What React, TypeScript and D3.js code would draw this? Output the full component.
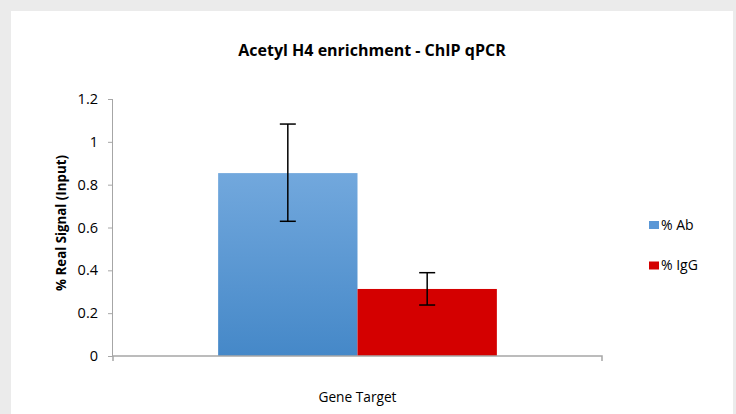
import React, { useEffect, useRef } from "react";
import * as d3 from "d3";

const categories = ["Gene Target"];
const seriesNames = ["% Ab", "% IgG"];
const seriesValues = [0.854, 0.313];
const errLow = [0.629, 0.238];
const errHigh = [1.083, 0.389];
const yTicks = [0, 0.2, 0.4, 0.6, 0.8, 1, 1.2];
const colors = ["url(#blueGrad)", "#d40000"];
const legendColors = ["#5a97d6", "#d40000"];

export default function App() {
  const svgRef = useRef<SVGSVGElement>(null);

  useEffect(() => {
    const width = 736;
    const height = 414;
    const svg = d3.select(svgRef.current).attr("width", width).attr("height", height);
    svg.selectAll("*").remove();

    const font = "'Open Sans', sans-serif";

    // --- background / panel ---
    svg.append("rect").attr("width", width).attr("height", height).attr("fill", "#ebebeb");
    svg.append("rect").attr("x", 11).attr("y", 11).attr("width", 722).attr("height", height - 11).attr("fill", "#fff");

    const defs = svg.append("defs");
    const grad = defs.append("linearGradient").attr("id", "blueGrad")
      .attr("x1", 0).attr("y1", 0).attr("x2", 0).attr("y2", 1);
    grad.append("stop").attr("offset", "0%").attr("stop-color", "#72a8dd");
    grad.append("stop").attr("offset", "100%").attr("stop-color", "#4588c8");

    // --- scales ---
    const x0 = d3.scaleBand().domain(categories).range([113, 602]).paddingInner(0).paddingOuter(0);
    const y = d3.scaleLinear().domain([0, 1.2]).range([356, 99]);
    const band = x0.bandwidth();
    const gap = 0.215 * band;
    const x1 = d3.scaleBand().domain(seriesNames).range([gap, band - gap]).padding(0);

    // --- title ---
    svg.append("text").attr("x", 372).attr("y", 56).attr("text-anchor", "middle")
      .attr("font-family", font).attr("font-weight", "bold").attr("font-size", 16)
      .attr("fill", "#000").text("Acetyl H4 enrichment - ChIP qPCR");

    // --- bars ---
    const g = svg.append("g");
    categories.forEach((c) => {
      seriesNames.forEach((s, i) => {
        const bx = (x0(c) as number) + (x1(s) as number);
        g.append("rect")
          .attr("x", bx).attr("y", y(seriesValues[i]))
          .attr("width", x1.bandwidth()).attr("height", y(0) - y(seriesValues[i]))
          .attr("fill", colors[i]);
        const cx = bx + x1.bandwidth() / 2;
        const eg = g.append("g").attr("stroke", "#000").attr("stroke-width", 1.5);
        eg.append("line").attr("x1", cx).attr("x2", cx).attr("y1", y(errHigh[i])).attr("y2", y(errLow[i]));
        eg.append("line").attr("x1", cx - 8).attr("x2", cx + 8).attr("y1", y(errHigh[i])).attr("y2", y(errHigh[i]));
        eg.append("line").attr("x1", cx - 8).attr("x2", cx + 8).attr("y1", y(errLow[i])).attr("y2", y(errLow[i]));
      });
    });

    // --- axes ---
    const axisColor = "#a6a6a6";
    const yAxis = svg.append("g").attr("transform", "translate(113,0)")
      .call(d3.axisLeft(y).tickValues(yTicks).tickSize(5).tickPadding(10).tickFormat((d) => d3.format("")(+d)));
    yAxis.select(".domain").attr("stroke", axisColor).attr("d", `M-0.5,${y(1.2)}V${y(0)}`);
    yAxis.selectAll(".tick line").attr("stroke", axisColor);
    yAxis.selectAll(".tick text").attr("font-family", font).attr("font-size", 14.5).attr("fill", "#000");

    const xAxis = svg.append("g").attr("transform", "translate(0,356)")
      .call(d3.axisBottom(x0).tickSize(0).tickFormat(() => ""));
    xAxis.select(".domain").attr("stroke", axisColor).attr("stroke-width", 1.5)
      .attr("d", "M113,0V5M113,0H602V5");

    svg.append("text").attr("x", (x0(categories[0]) as number) + band / 2).attr("y", 402)
      .attr("text-anchor", "middle").attr("font-family", font).attr("font-size", 13.7)
      .attr("fill", "#000").text(categories[0]);

    svg.append("text").attr("transform", "translate(66,223) rotate(-90)")
      .attr("text-anchor", "middle").attr("font-family", font).attr("font-weight", "bold")
      .attr("font-size", 13.3).attr("fill", "#000").text("% Real Signal (Input)");

    // --- legend ---
    const leg = svg.append("g").attr("transform", "translate(649,221)");
    seriesNames.forEach((s, i) => {
      const row = leg.append("g").attr("transform", `translate(0,${i * 40})`);
      row.append("rect").attr("width", 10).attr("height", 8).attr("y", i === 0 ? 0 : 0.5).attr("fill", legendColors[i]);
      row.append("text").attr("x", 12).attr("y", 9).attr("font-family", font).attr("font-size", 14)
        .attr("fill", "#000").text(s);
    });
  }, []);

  return <svg ref={svgRef} style={{ position: "absolute", left: 0, top: 0, display: "block" }}></svg>;
}
